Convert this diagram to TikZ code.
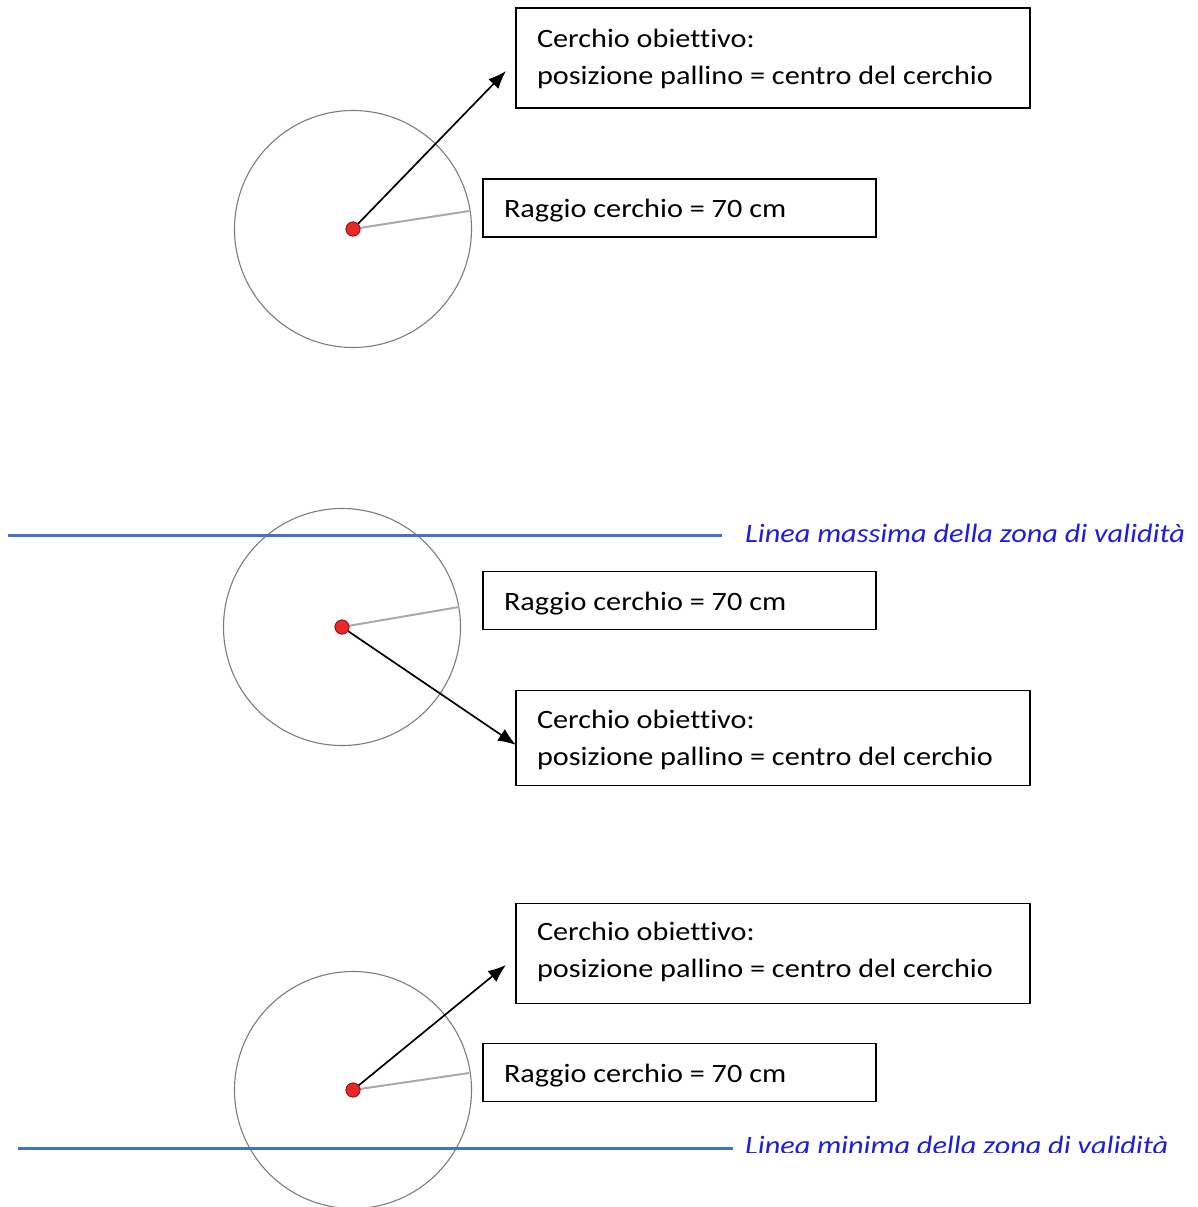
\documentclass[tikz,border=0pt]{standalone}
\usepackage{fontspec}
\setmainfont{Carlito}[FakeStretch=1.142, Ligatures=CommonOff]
\usetikzlibrary{arrows.meta}
\definecolor{circgray}{RGB}{125,125,125}
\definecolor{radgray}{RGB}{170,170,170}
\definecolor{lineblue}{RGB}{68,114,196}
\definecolor{textblue}{RGB}{30,30,220}
\definecolor{dotred}{RGB}{235,40,40}
\definecolor{dotedge}{RGB}{150,20,20}
\newcommand{\strutup}[1]{\rule{0pt}{#1}}
\newcommand{\strutdown}[1]{\rule[-#1]{0pt}{#1}}
\tikzset{
  x=1pt, y=-1pt,
  target/.style={draw=circgray, line width=1.1pt},
  radius line/.style={draw=radgray, line width=2pt},
  dot/.style={circle, fill=dotred, draw=dotedge, line width=0.8pt, minimum size=14pt, inner sep=0pt},
  boxtext/.style={font=\fontsize{26.5}{37}\selectfont, execute at begin node={\spaceskip=0pt\xspaceskip=0pt\relax}},
  bigbox/.style={boxtext, draw=black, line width=1.6pt, minimum width=514pt, minimum height=100pt, text width=472pt, inner xsep=21pt, align=left},
  smallbox/.style={boxtext, draw=black, line width=1.6pt, minimum width=393pt, minimum height=58pt, text width=351pt, inner xsep=21pt, align=left},
  pointer/.style={draw=black, line width=1.7pt, -{Latex[length=18pt,width=14pt]}},
  limit/.style={draw=lineblue, line width=3pt},
  limitlabel/.style={text=textblue, font=\fontsize{26.5}{34}\selectfont\itshape, anchor=base west, inner sep=0pt}
}
\begin{document}
\begin{tikzpicture}
\useasboundingbox (0,0) rectangle (1197,1207);
\fill[white] (0,0) rectangle (1197,1207);
\clip (0,0) rectangle (1197,1207);

% ---------- top ----------
\draw[target] (353,229) circle (118.5);
\coordinate (r1) at (469,211);
\draw[radius line] (353,229) -- (r1);
\node[bigbox] (b1) at (773,58) {\strutup{24pt}Cerchio obiettivo:\\posizione pallino = centro del cerchio\strutdown{7pt}};
\node[smallbox] (s1) at (679.5,208) {\strutup{26pt}Raggio cerchio = 70 cm\strutdown{7pt}};
\coordinate (t1) at (506,71);
\node[dot] (d1) at (353,229) {};
\draw[pointer] (d1.center) -- (t1);
\node[dot] at (d1) {};

% ---------- middle ----------
\draw[target] (342,627) circle (118.5);
\coordinate (r2) at (459,607);
\draw[radius line] (342,627) -- (r2);
\coordinate (l2a) at (8,535);
\coordinate (l2b) at (722,535);
\draw[limit] (l2a) -- (l2b);
\node[limitlabel] (lab2) at (745,542.5) {Linea massima della zona di validità};
\node[smallbox] (s2) at (679.5,600.5) {\strutup{26pt}Raggio cerchio = 70 cm\strutdown{7pt}};
\node[bigbox, minimum height=95pt] (b2) at (773,738) {\strutup{24pt}Cerchio obiettivo:\\posizione pallino = centro del cerchio\strutdown{7pt}};
\coordinate (t2) at (516,745);
\node[dot] (d2) at (342,627) {};
\draw[pointer] (d2.center) -- (t2);
\node[dot] at (d2) {};

% ---------- bottom ----------
\draw[target] (353,1090) circle (118.5);
\coordinate (r3) at (469,1073);
\draw[radius line] (353,1090) -- (r3);
\node[bigbox] (b3) at (773,953.5) {\strutup{24pt}Cerchio obiettivo:\\posizione pallino = centro del cerchio\strutdown{14pt}};
\node[smallbox] (s3) at (679.5,1072.5) {\strutup{26pt}Raggio cerchio = 70 cm\strutdown{7pt}};
\coordinate (t3) at (506,965);
\node[dot] (d3) at (353,1090) {};
\draw[pointer] (d3.center) -- (t3);
\node[dot] at (d3) {};
\coordinate (l3a) at (18,1148);
\coordinate (l3b) at (733,1148);
\draw[limit] (l3a) -- (l3b);
\begin{scope}
\clip (736,1100) rectangle (1197,1152.5);
\node[limitlabel] (lab3) at (745,1154) {Linea minima della zona di validità};
\end{scope}
\end{tikzpicture}
\end{document}
